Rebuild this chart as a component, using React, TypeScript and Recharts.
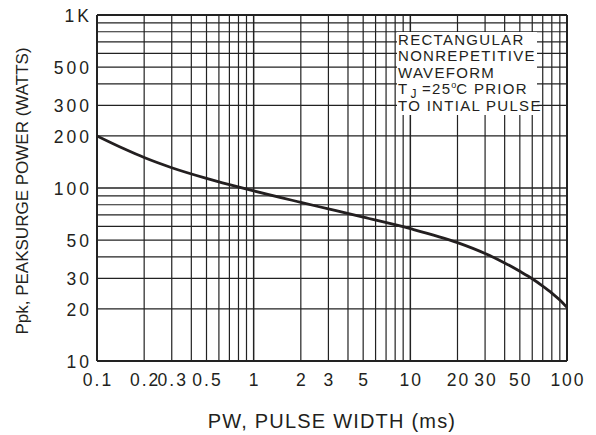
import { LineChart, Line, XAxis, YAxis, ReferenceLine } from "recharts"

// Ppk (W) vs pulse width (ms)
const pulseWidth = [0.1, 0.15, 0.2, 0.3, 0.5, 0.7, 1, 2, 3, 5, 10, 20, 30, 40, 50, 60, 70, 80, 90, 100]
const peakPower = [200, 168, 150, 131, 113.7, 104.6, 96.2, 82.6, 75.7, 67.8, 58.2, 48.3, 41.8, 36.9, 33, 29.9, 27.1, 24.7, 22.5, 20.4]

const xTicks = [0.1, 0.2, 0.3, 0.5, 1, 2, 3, 5, 10, 20, 30, 50, 100]
const yTicks = [10, 20, 30, 50, 100, 200, 300, 500, 1000]
const xDecades = [0.1, 1, 10]
const yDecades = [10, 100]
const steps = [1, 2, 3, 4, 5, 6, 7, 8, 9]

const noteLines = ["RECTANGULAR", "NONREPETITIVE", "WAVEFORM", "TJ", "TO INTIAL PULSE"]

const xGrid = [...xDecades.flatMap(d => steps.map(s => +(d * s).toPrecision(3))), 100]
const yGrid = [...yDecades.flatMap(d => steps.map(s => d * s)), 1000]

const data = pulseWidth.map((pw, i) => ({ pw, ppk: peakPower[i] }))

const FONT = "'Liberation Sans', Arial, sans-serif"
const INK = "#231f20"

const XTick = ({ x, y, payload }: any) => (
  <text x={x + 1} y={y + 25} textAnchor="middle" fontSize={17.5} letterSpacing={2}
    fill={INK} fontFamily={FONT}>
    {payload.value}
  </text>
)

const YTick = ({ x, y, payload }: any) => (
  <text x={x + 3} y={y + 7} textAnchor="end" fontSize={17.5} letterSpacing={3}
    fill={INK} fontFamily={FONT}>
    {payload.value === 1000 ? "1K" : payload.value}
  </text>
)

export default function App() {
  return (
    <div style={{ position: "relative", width: 580, height: 427 }}>
      <LineChart width={580} height={427} data={data}
        margin={{ top: 7, right: 21, bottom: 0, left: 0 }}>
        <XAxis dataKey="pw" type="number" scale="log" domain={[0.1, 100]} ticks={xTicks}
          allowDataOverflow axisLine={false} tickLine={false} tickSize={0} tickMargin={0}
          height={74} tick={<XTick />} interval={0}
          label={{
            content: ({ viewBox }: any) => (
              <text x={viewBox.x + viewBox.width / 2} y={viewBox.y + 67} textAnchor="middle"
                fontSize={20} letterSpacing={1.2} fill={INK} fontFamily={FONT}>
                PW, PULSE WIDTH (ms)
              </text>
            ),
          }}
        />
        <YAxis type="number" scale="log" domain={[10, 1000]} ticks={yTicks}
          allowDataOverflow axisLine={false} tickLine={false} tickSize={0} tickMargin={8}
          width={89} tick={<YTick />} interval={0}
          label={{
            content: ({ viewBox }: any) => {
              const cy = viewBox.y + viewBox.height / 2 + 3
              return (
                <text x={20} y={cy} transform={`rotate(-90, 20, ${cy})`} textAnchor="middle"
                  fontSize={17} fill={INK} fontFamily={FONT}>
                  Ppk, PEAKSURGE POWER (WATTS)
                </text>
              )
            },
          }}
        />
        {xGrid.map(v => (
          <ReferenceLine key={"x" + v} x={v} stroke="#222"
            strokeWidth={v === 0.1 || v === 100 ? 2 : v === 1 || v === 10 ? 1.5 : 1.2} />
        ))}
        {yGrid.map(v => (
          <ReferenceLine key={"y" + v} y={v} stroke="#222"
            strokeWidth={v === 10 || v === 1000 ? 2 : v === 100 ? 1.5 : 1.2} />
        ))}
        <Line dataKey="ppk" type="monotone" stroke={INK} strokeWidth={2.8} dot={false}
          isAnimationActive={false} />
      </LineChart>
      <svg width={580} height={427} style={{ position: "absolute", left: 0, top: 0, pointerEvents: "none" }}>
        <rect x={389} y={24} width={140} height={83} fill="#fff" />
        <g fontFamily={FONT} fontSize={15} letterSpacing={1.3} fill={INK}>
          {noteLines.map((line, i) => (
            <text key={line} x={390} y={36.5 + i * 16.6}>
              {line === "TJ" ? (
                <>
                  T<tspan dx={2} dy={4} fontSize={12} letterSpacing={0}>J</tspan>
                  <tspan dy={-4}> =25</tspan>
                  <tspan dy={-6} fontSize={9} letterSpacing={0}>o</tspan>
                  <tspan dy={6}>C PRIOR</tspan>
                </>
              ) : line}
            </text>
          ))}
        </g>
      </svg>
    </div>
  )
}
